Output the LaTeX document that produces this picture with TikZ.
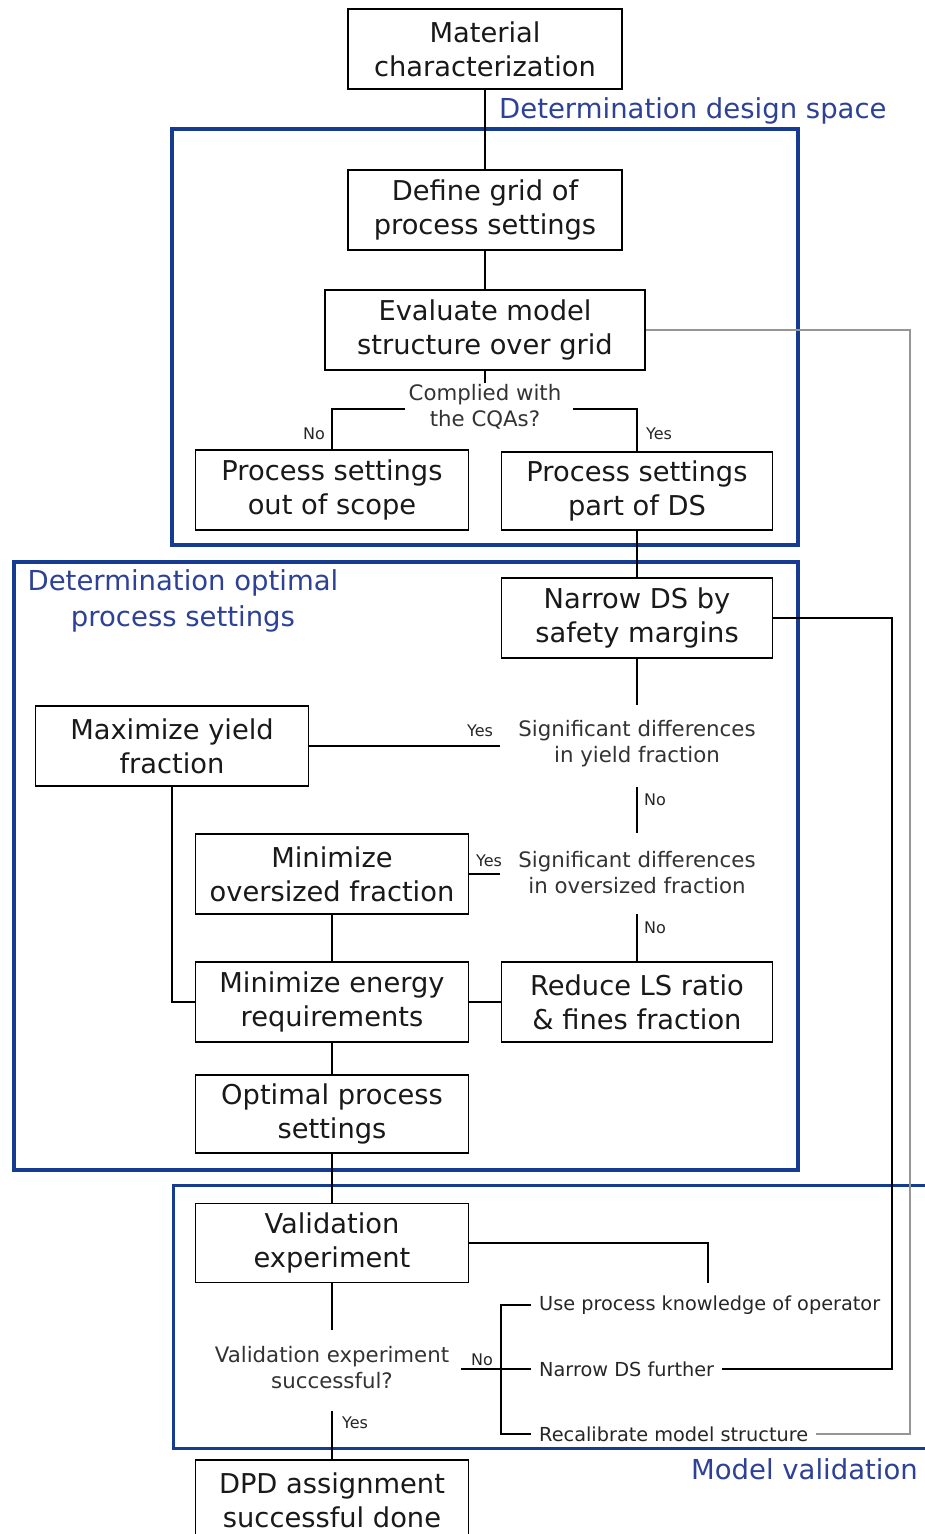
\documentclass[tikz,border=0pt]{standalone}
\usepackage{fontspec}
\setmainfont{DejaVu Sans}
\definecolor{frameblue}{RGB}{22,60,145}
\definecolor{labelblue}{RGB}{45,65,150}
\definecolor{txt}{RGB}{25,25,25}
\definecolor{grayline}{RGB}{150,150,150}
\begin{document}
\begin{tikzpicture}[x=1pt,y=-1pt,
  box/.style={draw=black, line width=1.4pt, minimum width=273pt, minimum height=80pt, align=center, text=txt, font=\fontsize{27.3}{34}\selectfont, inner sep=0pt},
  q/.style={align=center, font=\fontsize{21.3}{26}\selectfont, text=black!80, inner sep=0pt},
  opt/.style={anchor=west, font=\fontsize{19.3}{22}\selectfont, text=black!85, inner xsep=8pt, inner ysep=0pt},
  yn/.style={font=\fontsize{16}{18}\selectfont, text=black!85, inner sep=0pt},
  conn/.style={line width=1.2pt, draw=black},
  frame/.style={draw=frameblue, line width=4.5pt},
  framethin/.style={draw=frameblue, line width=3pt},
  flabel/.style={text=labelblue, font=\fontsize{27.5}{36}\selectfont, align=center, inner sep=0pt}
]
\useasboundingbox (0,0) rectangle (924,1534);
\fill[white] (0,0) rectangle (924,1534);

% frames
\draw[frame] (172,129) rectangle (798,545);
\draw[frame] (14,562) rectangle (798,1170);
\draw[framethin] (930,1185) -- (173,1185) -- (173,1448) -- (930,1448);

% frame labels
\node[flabel, anchor=west] (lds) at (499,111) {Determination design space};
\node[flabel] (lop) at (183,601) {Determination optimal\\process settings};
\node[flabel, anchor=east] (lmv) at (918,1469) {Model validation};

% boxes
\node[box, minimum width=274pt] (mat) at (485,49) {Material\\characterization};
\node[box, minimum width=274pt] (grid) at (485,210) {Define grid of\\process settings};
\node[box, minimum width=320pt] (eval) at (485,330) {Evaluate model\\structure over grid};
\node[box] (outs) at (332,490) {Process settings\\out of scope};
\node[box, minimum width=271pt, minimum height=78pt] (pds) at (637,491) {Process settings\\part of DS};
\node[box, minimum width=271pt] (narrow) at (637,618) {Narrow DS by\\safety margins};
\node[box] (maxy) at (172,746) {Maximize yield\\fraction};
\node[box] (minover) at (332,874) {Minimize\\oversized fraction};
\node[box] (minen) at (332,1002) {Minimize energy\\requirements};
\node[box, minimum width=271pt] (reduce) at (637,1002) {Reduce LS ratio\\\& fines fraction};
\node[box, minimum height=78pt] (optim) at (332,1114) {Optimal process\\settings};
\node[box, minimum height=79pt] (valid) at (332,1243) {Validation\\experiment};
\node[box] (dpd) at (332,1500) {DPD assignment\\successful done};

% decision texts
\node[q] (cqa) at (485,407) {Complied with\\the CQAs?};
\node[q] (sig1) at (637,744) {Significant differences\\in yield fraction};
\node[q] (sig2) at (637,873) {Significant differences\\in oversized fraction};
\node[q] (vq) at (332,1368) {Validation experiment\\successful?};

% options
\node[opt] (opt1) at (531,1305) {Use process knowledge of operator};
\node[opt] (opt2) at (531,1369) {Narrow DS further};
\node[opt] (opt3) at (531,1434) {Recalibrate model structure};

% yes/no labels
\node[yn] (no1) at (314,434) {No};
\node[yn] (yes1) at (659,434) {Yes};
\node[yn] (yes2) at (480,731) {Yes};
\node[yn] (no2) at (655,800) {No};
\node[yn] (yes3) at (489,861) {Yes};
\node[yn] (no3) at (655,928) {No};
\node[yn] (no4) at (482,1360) {No};
\node[yn] (yes4) at (355,1423) {Yes};

% coordinates
\coordinate (cqaN) at (485,383);
\coordinate (cqaL) at (405,409);
\coordinate (cqaR) at (573,409);
\coordinate (s1N) at (637,705);
\coordinate (s1W) at (500,746);
\coordinate (s1S) at (637,787);
\coordinate (s2N) at (637,833);
\coordinate (s2W) at (500,874);
\coordinate (s2S) at (637,914);
\coordinate (vend) at (708,1283);
\coordinate (vqN) at (332,1330);
\coordinate (vqE) at (461,1369);
\coordinate (vqS) at (332,1411);
\coordinate (bx) at (501,1369);
\coordinate (rt1) at (892,618);
\coordinate (rt2) at (910,330);

% connectors
\draw[conn] (mat.south) -- (grid.north);
\draw[conn] (grid.south) -- (eval.north);
\draw[conn] (eval.south) -- (cqaN);
\draw[conn] (cqaL) -| (outs.north);
\draw[conn] (cqaR) -| (pds.north);
\draw[conn] (pds.south) -- (narrow.north);
\draw[conn] (narrow.south) -- (s1N);
\draw[conn] (maxy.east) -- (s1W);
\draw[conn] (s1S) -- (s2N);
\draw[conn] (minover.east) -- (s2W);
\draw[conn] (s2S) -- (reduce.north);
\draw[conn] (minover.south) -- (minen.north);
\draw[conn] (minen.east) -- (reduce.west);
\draw[conn] (maxy.south) |- (minen.west);
\draw[conn] (minen.south) -- (optim.north);
\draw[conn] (optim.south) -- (valid.north);
\draw[conn] (valid.east) -| (vend);
\draw[conn] (valid.south) -- (vqN);
\draw[conn] (vqE) -- (opt2.west);
\draw[conn] (opt1.west) -| (bx) |- (opt3.west);
\draw[conn] (vqS) -- (dpd.north);
\draw[conn] (opt2.east) -| (rt1) -- (narrow.east);
\draw[line width=1.6pt, draw=grayline] (opt3.east) -| (rt2) -- (eval.east);
\end{tikzpicture}
\end{document}
